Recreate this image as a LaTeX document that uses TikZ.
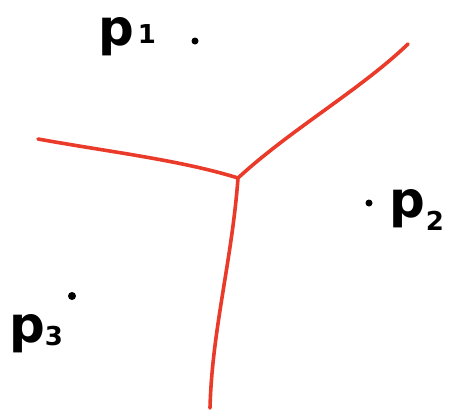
\documentclass[tikz,border=0pt]{standalone}
\usepackage{fontspec}
\setmainfont{DejaVu Sans}
\definecolor{penred}{HTML}{EA3A2A}
\newcommand{\subdig}[2]{\raisebox{#2}{\fontsize{26}{26}\selectfont #1}}
\begin{document}
\begin{tikzpicture}[x=1pt,y=-1pt,
  edge/.style={draw=penred,line width=3.6pt,line cap=round,line join=round},
  site/.style={circle,fill=black,inner sep=0pt,minimum size=7pt},
  lbl/.style={inner sep=0pt,anchor=base west,font=\bfseries\fontsize{50}{50}\selectfont}]
\useasboundingbox (0,0) rectangle (449,413);
\coordinate (c) at (238,178);
\coordinate (l) at (38,139);
\coordinate (r) at (408,44);
\coordinate (b) at (210,408);
\draw[edge] (c) .. controls (180,160) and (110,152) .. (l);
\draw[edge] (c) .. controls (290,130) and (360,90) .. (r);
\draw[edge] (c) .. controls (232,260) and (212,330) .. (b);
\node[site] (s1) at (195,41) {};
\node[site] (s2) at (369,203) {};
\node[site,minimum size=8pt] (s3) at (72,296) {};
\node[lbl] (p1) at (98,45) {p\hspace{4pt}\subdig{1}{2pt}};
\node[lbl] (p2) at (389,217) {p\hspace{1pt}\subdig{2}{-13pt}};
\node[lbl] (p3) at (9,342) {p\hspace{0pt}\subdig{3}{-3pt}};
\end{tikzpicture}
\end{document}
